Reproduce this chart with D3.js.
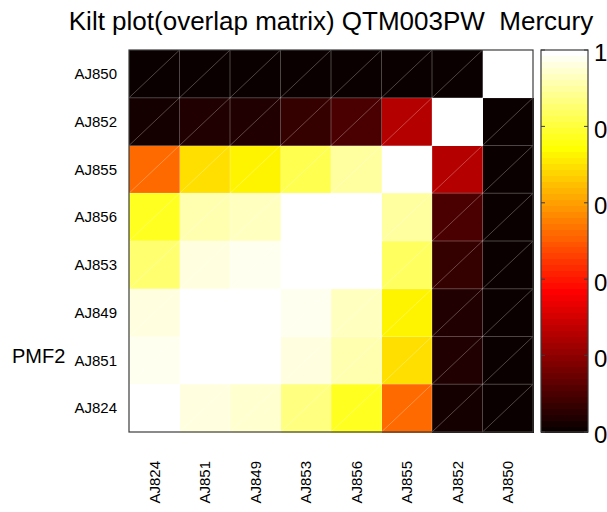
<!DOCTYPE html>
<html>
<head>
<meta charset="utf-8">
<script src="https://cdn.jsdelivr.net/npm/d3@7/dist/d3.min.js"></script>
<style>
  html, body { margin: 0; padding: 0; background: #fff; overflow: hidden; }
  svg { display: block; font-family: "Liberation Sans", Arial, sans-serif; }
</style>
</head>
<body>
<svg id="chart" width="607" height="512"></svg>
<script>
// ---- data ----
const rowLabels = ["AJ850", "AJ852", "AJ855", "AJ856", "AJ853", "AJ849", "AJ851", "AJ824"];
const colLabels = ["AJ824", "AJ851", "AJ849", "AJ853", "AJ856", "AJ855", "AJ852", "AJ850"];
const rowAJ850 = [0.01, 0.01, 0.01, 0.01, 0.01, 0.01, 0.01, 1.00];
const rowAJ852 = [0.02, 0.04, 0.04, 0.07, 0.10, 0.26, 1.00, 0.01];
const rowAJ855 = [0.52, 0.70, 0.73, 0.82, 0.90, 1.00, 0.26, 0.01];
const rowAJ856 = [0.77, 0.91, 0.93, 1.00, 1.00, 0.90, 0.10, 0.01];
const rowAJ853 = [0.85, 0.96, 0.98, 1.00, 1.00, 0.83, 0.07, 0.01];
const rowAJ849 = [0.96, 1.00, 1.00, 0.98, 0.93, 0.73, 0.04, 0.01];
const rowAJ851 = [0.97, 1.00, 1.00, 0.965, 0.91, 0.70, 0.04, 0.01];
const rowAJ824 = [1.00, 0.965, 0.94, 0.87, 0.77, 0.52, 0.02, 0.01];
const colorbarTicks = [0, 0.2, 0.4, 0.6, 0.8, 1];
const titleText = "Kilt plot(overlap matrix) QTM003PW  Mercury";
const yAxisLabel = "PMF2";

const matrix = [rowAJ850, rowAJ852, rowAJ855, rowAJ856, rowAJ853, rowAJ849, rowAJ851, rowAJ824];

// ---- hot colormap (64 levels, MATLAB style) ----
const nLevels = 64;
const hotColors = d3.range(1, nLevels + 1).map(k => {
  const r = Math.min(1, k / 24);
  const g = Math.max(0, Math.min(1, (k - 24) / 24));
  const b = Math.max(0, Math.min(1, (k - 48) / 16));
  return d3.rgb(r * 255, g * 255, b * 255).formatHex();
});
const color = d3.scaleQuantize().domain([0, 1]).range(hotColors);

// ---- layout ----
const svg = d3.select("#chart");
const plot = { left: 129, right: 533, top: 50, bottom: 432 };
const x = d3.scaleBand().domain(colLabels).range([plot.left, plot.right]).padding(0);
const y = d3.scaleBand().domain(rowLabels).range([plot.top, plot.bottom]).padding(0);

const cells = [];
matrix.forEach((row, i) => row.forEach((v, j) => cells.push({ r: rowLabels[i], c: colLabels[j], v })));

svg.append("g").selectAll("rect").data(cells).join("rect")
  .attr("x", d => x(d.c))
  .attr("y", d => y(d.r))
  .attr("width", x.bandwidth() + 0.5)
  .attr("height", y.bandwidth() + 0.5)
  .attr("fill", d => color(d.v))
  .attr("shape-rendering", "crispEdges");

// grid lines and diagonals (semi-transparent white)
const gridG = svg.append("g").attr("stroke", "#ffffff").attr("stroke-opacity", 0.27).attr("stroke-width", 1);
colLabels.forEach((c, j) => {
  if (j > 0) gridG.append("line").attr("x1", x(c)).attr("x2", x(c)).attr("y1", plot.top).attr("y2", plot.bottom);
});
rowLabels.forEach((r, i) => {
  if (i > 0) gridG.append("line").attr("x1", plot.left).attr("x2", plot.right).attr("y1", y(r)).attr("y2", y(r));
});
gridG.selectAll("line.diag").data(cells).join("line").attr("class", "diag")
  .attr("x1", d => x(d.c)).attr("y1", d => y(d.r) + y.bandwidth())
  .attr("x2", d => x(d.c) + x.bandwidth()).attr("y2", d => y(d.r));

// axes box
svg.append("rect")
  .attr("x", plot.left).attr("y", plot.top)
  .attr("width", plot.right - plot.left).attr("height", plot.bottom - plot.top)
  .attr("fill", "none").attr("stroke", "#3c3c3c").attr("stroke-width", 1.2);

// y tick labels
svg.append("g").selectAll("text").data(rowLabels).join("text")
  .attr("x", 117)
  .attr("y", d => y(d) + y.bandwidth() / 2)
  .attr("dy", "0.35em")
  .attr("text-anchor", "end")
  .attr("font-size", 15)
  .attr("fill", "#000")
  .text(d => d);

// x tick labels (rotated)
svg.append("g").selectAll("text").data(colLabels).join("text")
  .attr("transform", d => `translate(${x(d) + x.bandwidth() / 2},461) rotate(-90)`)
  .attr("dy", "0.35em")
  .attr("text-anchor", "end")
  .attr("font-size", 15)
  .attr("fill", "#000")
  .text(d => d);

// y axis label
svg.append("text")
  .attr("x", 12).attr("y", 363)
  .attr("font-size", 20)
  .attr("fill", "#000")
  .text(yAxisLabel);

// title
svg.append("text")
  .attr("x", (plot.left + plot.right) / 2).attr("y", 30)
  .attr("text-anchor", "middle")
  .attr("font-size", 26)
  .attr("fill", "#000")
  .style("white-space", "pre")
  .attr("xml:space", "preserve")
  .text(titleText);

// ---- colorbar ----
const cb = { left: 541, right: 588, top: 50, bottom: 432 };
const cy = d3.scaleLinear().domain([0, 1]).range([cb.bottom, cb.top]);
svg.append("g").selectAll("rect").data(hotColors).join("rect")
  .attr("x", cb.left)
  .attr("width", cb.right - cb.left)
  .attr("y", (d, i) => cy((i + 1) / nLevels))
  .attr("height", (d, i) => cy(i / nLevels) - cy((i + 1) / nLevels) + 0.5)
  .attr("fill", d => d)
  .attr("shape-rendering", "crispEdges");
svg.append("rect")
  .attr("x", cb.left).attr("y", cb.top)
  .attr("width", cb.right - cb.left).attr("height", cb.bottom - cb.top)
  .attr("fill", "none").attr("stroke", "#3c3c3c").attr("stroke-width", 1.2);
const tickG = svg.append("g").attr("stroke", "#3c3c3c").attr("stroke-width", 1);
colorbarTicks.forEach(t => {
  tickG.append("line").attr("x1", cb.left).attr("x2", cb.left + 4).attr("y1", cy(t)).attr("y2", cy(t));
  tickG.append("line").attr("x1", cb.right - 4).attr("x2", cb.right).attr("y1", cy(t)).attr("y2", cy(t));
});
svg.append("g").selectAll("text").data(colorbarTicks).join("text")
  .attr("x", 594)
  .attr("y", d => cy(d) + 3)
  .attr("dy", "0.35em")
  .attr("font-size", 24)
  .attr("fill", "#000")
  .text(d => d3.format("")(d));
</script>
</body>
</html>
